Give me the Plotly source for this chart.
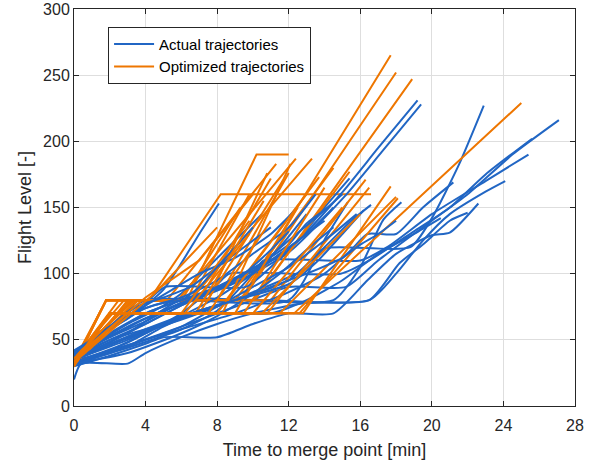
import plotly.graph_objects as go

# ---------------- data ----------------
# Actual (radar) trajectories: time to merge point [min] and flight level
actual_t = [
    [0, 1, 2, 3, 4, 5, 6, 7, 8.1],
    [0, 1.5, 3, 4.5, 6, 7.5, 9, 10.5],
    [0, 2, 4, 6, 9, 12, 14.9, 17, 19.2],
    [0, 2, 4, 6, 9, 12, 15.1, 17.2, 19.4],
    [0, 2, 4, 7, 10, 13, 14, 18.8, 20, 21.5, 22.9],
    [0, 3, 6, 9, 12, 15.2, 17, 20, 22, 24.5, 27.1],
    [0, 3, 6, 8, 8.7, 14.9, 16.5, 19, 21, 23, 25.6],
    [0, 3, 6, 8, 10, 10.6, 16, 17.5, 20, 23, 25.4],
    [0, 2, 5, 7, 9, 16.5, 18, 19.5, 21, 23, 24.1],
    [0, 2, 4, 5, 8, 10, 12, 14.5, 16.4, 18, 20, 21, 22.6],
    [0, 0.4, 3, 4, 6, 8, 10, 13, 16.5, 18.2, 19.5, 21, 22],
    [0, 3, 6, 14.5, 16, 17.3, 18.3],
    [0, 3, 6, 9, 12, 14, 15.5, 16.6],
    [0, 2, 4, 5.1, 9.6, 11, 12.5, 14, 15.4],
    [0, 2, 4, 12, 14.1, 15.3],
    [0, 3, 6, 9, 12, 14, 15.5, 16.4, 18, 19.5, 21.2],
    [0, 3, 5, 7, 11, 13, 15, 17, 19, 20.5],
    [0, 2, 4, 6, 8, 10, 12, 13.5],
    [0, 2, 4, 6, 8, 10, 11.5, 13],
    [0, 2, 4, 5.5, 7, 9, 11, 12.5],
    [0, 2, 4, 6, 8, 10, 12, 14],
    [0, 1, 3, 5, 7, 9, 11, 13, 14.5],
    [0, 2, 4, 6, 8, 10, 12, 14, 15.8],
    [0, 2, 3.5, 5, 6.5, 8, 9.5, 11],
    [0, 2, 4, 6, 8, 10, 12, 13, 14.2],
    [0, 2, 4, 6, 7.5, 9, 10.5, 12, 13.5, 15],
    [0, 3, 6, 8, 10, 11.5, 13, 14.5],
    [0, 2, 4, 6, 8, 9.5, 11, 12],
    [0, 2, 4, 5, 6, 7, 8, 9, 10],
    [0, 3, 5, 7, 9, 11, 13, 15, 16, 17, 18],
    [0, 2, 4, 6, 9, 12, 13.5, 15, 16.2],
]
actual_fl = [
    [40, 50, 58, 66, 76, 88, 108, 130, 153],
    [38, 50, 62, 72, 85, 105, 125, 145],
    [38, 52, 64, 78, 95, 118, 160, 195, 231],
    [36, 50, 62, 76, 93, 116, 158, 192, 228],
    [35, 46, 56, 70, 86, 104, 119, 120, 142, 182, 227],
    [34, 46, 60, 75, 90, 90, 110, 140, 160, 190, 216],
    [33, 48, 70, 92, 100, 100, 110, 132, 150, 175, 202],
    [32, 44, 58, 72, 100, 110, 110, 120, 145, 170, 190],
    [37, 50, 62, 72, 80, 80, 100, 125, 145, 162, 170],
    [30, 38, 47, 52, 52, 62, 70, 70, 95, 115, 129, 131, 153],
    [20, 32, 32, 40, 52, 62, 70, 78, 80, 108, 122, 140, 146],
    [36, 55, 80, 80, 105, 141, 154],
    [34, 52, 66, 80, 95, 120, 140, 152],
    [40, 58, 78, 90, 90, 105, 125, 150, 172],
    [37, 60, 80, 80, 128, 154],
    [33, 46, 58, 70, 86, 100, 118, 130, 130, 150, 169],
    [33, 45, 60, 70, 70, 80, 95, 115, 130, 142],
    [42, 58, 74, 82, 95, 115, 135, 160],
    [35, 55, 70, 80, 88, 100, 120, 145],
    [39, 60, 76, 88, 100, 112, 130, 150],
    [33, 42, 55, 68, 82, 100, 120, 140],
    [36, 45, 60, 72, 82, 95, 110, 130, 150],
    [31, 40, 50, 60, 75, 90, 105, 125, 145],
    [41, 60, 75, 82, 90, 105, 120, 135],
    [34, 48, 62, 76, 90, 104, 122, 138, 150],
    [38, 52, 66, 78, 86, 96, 108, 125, 142, 160],
    [32, 40, 55, 68, 85, 100, 118, 135],
    [36, 54, 70, 80, 90, 100, 118, 132],
    [40, 60, 74, 78, 80, 90, 105, 120, 135],
    [35, 50, 62, 72, 80, 90, 100, 112, 122, 130, 140],
    [37, 47, 58, 68, 80, 92, 108, 130, 148],
]

# Optimized trajectories: climb, level-off, then continuous climb
optimized_t = [
    [0, 1.8, 4.2, 8.2, 16.6],
    [0, 1.8, 6.3, 10.2, 12.0],
    [0, 1.8, 5.2, 11.3],
    [0, 1.8, 5.8, 12.4],
    [0, 1.8, 6.5, 13.3],
    [0, 1.8, 9.3, 17.7],
    [0, 1.8, 9.4, 18.0],
    [0, 1.8, 10.1, 18.9],
    [0, 3.5, 6.0, 9.3],
    [0, 3.3, 7.0, 11.0],
    [0, 3.0, 8.0, 12.0],
    [0, 2.8, 8.5, 13.7],
    [0, 3.6, 9.0, 14.5],
    [0, 3.2, 10.0, 15.4],
    [0, 2.5, 11.0, 16.3],
    [0, 3.4, 7.5, 10.8],
    [0, 3.1, 6.5, 9.8],
    [0, 2.0, 12.3, 25.0],
    [0, 2.0, 12.6, 18.1],
    [0, 2.0, 12.8, 17.7],
    [0, 2.0, 11.5, 18.0],
    [0, 2.0, 10.8, 16.5],
    [0, 2.0, 8.3, 12.1],
    [0, 2.0, 7.0, 11.7],
    [0, 2.0, 8.0, 13.0],
    [0, 2.0, 9.5, 14.0],
    [0, 2.0, 9.0, 12.5],
    [0, 2.0, 6.0, 9.8],
    [0, 2.0, 6.8, 10.6],
    [0, 2.5, 10.0, 15.0],
    [0, 3.0, 10.5, 16.0],
    [0, 4.5, 8.0],
    [0, 4.0, 7.0, 10.0],
    [0, 2.0, 7.5, 11.0],
    [0, 2.0, 6.2, 9.8],
]
optimized_fl = [
    [31, 80, 80, 160, 160],
    [32, 80, 80, 190, 190],
    [33, 80, 80, 183],
    [31, 80, 80, 187],
    [34, 80, 80, 187],
    [31, 80, 80, 265],
    [31, 80, 80, 252],
    [32, 80, 80, 247],
    [33, 80, 80, 150],
    [35, 80, 80, 172],
    [30, 80, 80, 176],
    [36, 80, 80, 173],
    [31, 80, 80, 180],
    [33, 80, 80, 177],
    [35, 80, 80, 171],
    [38, 80, 80, 176],
    [34, 80, 80, 160],
    [31, 70, 70, 229],
    [31, 70, 70, 157],
    [32, 70, 70, 166],
    [33, 70, 70, 158],
    [31, 70, 70, 165],
    [30, 70, 70, 183],
    [32, 70, 70, 171],
    [34, 70, 70, 160],
    [31, 70, 70, 165],
    [33, 70, 70, 150],
    [35, 70, 70, 140],
    [30, 70, 70, 155],
    [36, 70, 70, 150],
    [34, 70, 70, 145],
    [33, 85, 135],
    [36, 82, 110, 160],
    [31, 70, 70, 140],
    [33, 70, 70, 130],
]

x_ticks = [0, 4, 8, 12, 16, 20, 24, 28]
y_ticks = [0, 50, 100, 150, 200, 250, 300]

BLUE = "#2166c4"
ORANGE = "#ee7600"
AXC = "#262626"
FONT = "Liberation Sans, Arial, sans-serif"

fig = go.Figure()
n = max(len(actual_t), len(optimized_t))
for i in range(n):
    if i < len(actual_t):
        fig.add_trace(go.Scatter(
            x=actual_t[i], y=actual_fl[i], mode="lines",
            line=dict(color=BLUE, width=2, shape="spline", smoothing=0.6),
            name="Actual trajectories", showlegend=(i == 0)))
    if i < len(optimized_t):
        fig.add_trace(go.Scatter(
            x=optimized_t[i], y=optimized_fl[i], mode="lines",
            line=dict(color=ORANGE, width=2),
            name="Optimized trajectories", showlegend=(i == 0)))

axis_common = dict(
    showline=True, linecolor=AXC, linewidth=1, mirror="ticks",
    ticks="inside", ticklen=5, tickcolor=AXC,
    showgrid=True, gridcolor="#dedede", gridwidth=1,
    zeroline=False, automargin=False, ticklabeloverflow="allow",
    tickfont=dict(family=FONT, size=16, color=AXC),
)

fig.update_layout(
    width=600, height=463,
    margin=dict(l=74, r=25, t=9, b=57),
    paper_bgcolor="white", plot_bgcolor="white",
    xaxis=dict(range=[0, 28], tickvals=x_ticks, ticklabelstandoff=5,
               title=dict(text="Time to merge point [min]",
                          font=dict(family=FONT, size=18, color=AXC), standoff=10),
               **axis_common),
    yaxis=dict(range=[0, 300], tickvals=y_ticks,
               title=dict(text="Flight Level [-]",
                          font=dict(family=FONT, size=18, color=AXC), standoff=6),
               **axis_common),
    legend=dict(x=0.068, y=0.955, xanchor="left", yanchor="top",
                bgcolor="white", bordercolor=AXC, borderwidth=1,
                font=dict(family=FONT, size=15, color="black"),
                itemwidth=40, tracegroupgap=0),
)

# remove the browser's default 8 px page margin so the figure sits at (0, 0)
fig.write_html("out.html", config={"displayModeBar": False},
               post_script="document.body.style.margin='0px';")
